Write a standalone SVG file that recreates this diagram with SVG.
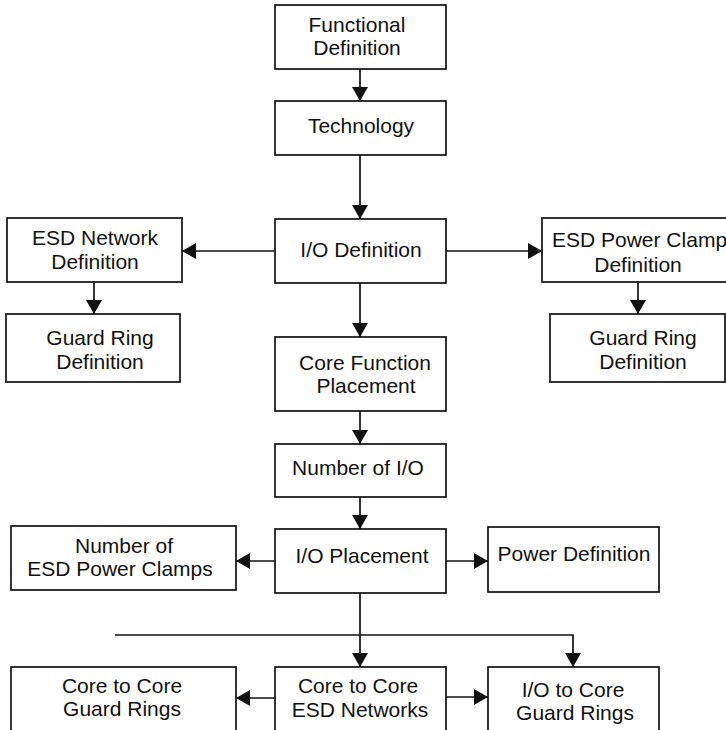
<svg xmlns="http://www.w3.org/2000/svg" width="726" height="730" viewBox="0 0 726 730">
<defs>
<style>
.box{fill:#fff;stroke:#111;stroke-width:1.7}
.t{font-family:"Liberation Sans",Arial,sans-serif;font-size:21px;fill:#111;text-anchor:middle}
.c{fill:none;stroke:#111;stroke-width:1.7}
</style>
<marker id="ah" markerUnits="userSpaceOnUse" markerWidth="15" markerHeight="16" refX="14" refY="8" orient="auto">
<path d="M0,0 L14,8 L0,16 z" fill="#111"/>
</marker>
</defs>
<rect width="726" height="730" fill="#fff"/>
<g id="connectors">
<path class="c" d="M360,69 V101" marker-end="url(#ah)"/>
<path class="c" d="M360,155 V219" marker-end="url(#ah)"/>
<path class="c" d="M275,251 H182" marker-end="url(#ah)"/>
<path class="c" d="M446,251 H542" marker-end="url(#ah)"/>
<path class="c" d="M94,282 V314" marker-end="url(#ah)"/>
<path class="c" d="M638,282 V314" marker-end="url(#ah)"/>
<path class="c" d="M360,283 V337" marker-end="url(#ah)"/>
<path class="c" d="M360,411 V444" marker-end="url(#ah)"/>
<path class="c" d="M360,497 V529" marker-end="url(#ah)"/>
<path class="c" d="M275,561 H236" marker-end="url(#ah)"/>
<path class="c" d="M446,561 H488" marker-end="url(#ah)"/>
<path class="c" d="M360,593 V667" marker-end="url(#ah)"/>
<path class="c" d="M115,635 H573 V667" marker-end="url(#ah)"/>
<path class="c" d="M275,698 H236" marker-end="url(#ah)"/>
<path class="c" d="M446,697 H488" marker-end="url(#ah)"/>
</g>
<g id="functional-definition">
<rect class="box" x="275" y="5" width="171" height="64"/>
<text class="t" x="357" y="32">Functional</text>
<text class="t" x="357" y="55">Definition</text>
</g>
<g id="technology">
<rect class="box" x="275" y="101" width="171" height="54"/>
<text class="t" x="361" y="133">Technology</text>
</g>
<g id="io-definition">
<rect class="box" x="275" y="219" width="171" height="64"/>
<text class="t" x="361" y="257">I/O Definition</text>
</g>
<g id="esd-network-definition">
<rect class="box" x="7" y="218" width="175" height="64"/>
<text class="t" x="95" y="245">ESD Network</text>
<text class="t" x="95" y="269">Definition</text>
</g>
<g id="guard-ring-left">
<rect class="box" x="6" y="314" width="174" height="68"/>
<text class="t" x="100" y="345">Guard Ring</text>
<text class="t" x="100" y="369">Definition</text>
</g>
<g id="esd-power-clamp-definition">
<rect class="box" x="542" y="218" width="200" height="64"/>
<text class="t" x="552" y="247" style="text-anchor:start">ESD Power Clamp</text>
<text class="t" x="638" y="272">Definition</text>
</g>
<g id="guard-ring-right">
<rect class="box" x="550" y="314" width="175" height="68"/>
<text class="t" x="643" y="345">Guard Ring</text>
<text class="t" x="643" y="369">Definition</text>
</g>
<g id="core-function-placement">
<rect class="box" x="275" y="337" width="171" height="74"/>
<text class="t" x="365" y="370">Core Function</text>
<text class="t" x="366" y="393">Placement</text>
</g>
<g id="number-of-io">
<rect class="box" x="275" y="444" width="171" height="53"/>
<text class="t" x="358" y="475">Number of I/O</text>
</g>
<g id="io-placement">
<rect class="box" x="275" y="529" width="171" height="64"/>
<text class="t" x="362" y="563">I/O Placement</text>
</g>
<g id="number-of-esd-power-clamps">
<rect class="box" x="11" y="526" width="225" height="64"/>
<text class="t" x="124" y="553">Number of</text>
<text class="t" x="120" y="576">ESD Power Clamps</text>
</g>
<g id="power-definition">
<rect class="box" x="488" y="527" width="171" height="65"/>
<text class="t" x="574" y="561">Power Definition</text>
</g>
<g id="core-to-core-guard-rings">
<rect class="box" x="11" y="667" width="225" height="80"/>
<text class="t" x="122" y="693">Core to Core</text>
<text class="t" x="122" y="716">Guard Rings</text>
</g>
<g id="core-to-core-esd-networks">
<rect class="box" x="275" y="667" width="171" height="80"/>
<text class="t" x="358" y="693">Core to Core</text>
<text class="t" x="360" y="717">ESD Networks</text>
</g>
<g id="io-to-core-guard-rings">
<rect class="box" x="488" y="667" width="171" height="80"/>
<text class="t" x="573" y="697">I/O to Core</text>
<text class="t" x="575" y="720">Guard Rings</text>
</g>
</svg>
